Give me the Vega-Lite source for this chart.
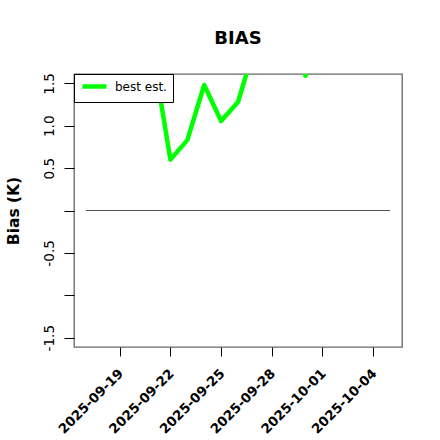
{
  "$schema": "https://vega.github.io/schema/vega-lite/v6.json",
  "width": 328,
  "height": 273,
  "autosize": {"type": "none"},
  "padding": {"left": 74, "top": 74, "right": 38, "bottom": 93},
  "background": "white",
  "config": {
    "font": "DejaVu Sans",
    "view": {"stroke": "#666", "strokeWidth": 1.3}
  },
  "title": {
    "text": "BIAS",
    "fontSize": 18,
    "fontWeight": "bold",
    "anchor": "middle",
    "offset": 11,
    "baseline": "alphabetic",
    "color": "black"
  },
  "layer": [
    {
      "data": {
        "values": [
          {"start": "2025-09-17", "end": "2025-10-05", "level": 0}
        ]
      },
      "mark": {"type": "rule", "color": "#555", "strokeWidth": 1.2},
      "encoding": {
        "x": {"field": "start", "type": "temporal"},
        "x2": {"field": "end"},
        "y": {"field": "level", "type": "quantitative"}
      }
    },
    {
      "data": {
        "values": [
          {"date": "2025-09-21", "bias": 1.81, "series": "best est."},
          {"date": "2025-09-22", "bias": 0.6, "series": "best est."},
          {"date": "2025-09-23", "bias": 0.83, "series": "best est."},
          {"date": "2025-09-24", "bias": 1.48, "series": "best est."},
          {"date": "2025-09-25", "bias": 1.055, "series": "best est."},
          {"date": "2025-09-26", "bias": 1.28, "series": "best est."},
          {"date": "2025-09-27", "bias": 1.94, "series": "best est."},
          {"date": "2025-09-28", "bias": 2.1, "series": "best est."},
          {"date": "2025-09-29", "bias": 2.0, "series": "best est."},
          {"date": "2025-09-30", "bias": 1.59, "series": "best est."},
          {"date": "2025-10-01", "bias": 2.0, "series": "best est."}
        ]
      },
      "mark": {"type": "line", "clip": true, "strokeWidth": 4.5, "strokeJoin": "round", "strokeCap": "round"},
      "encoding": {
        "x": {
          "field": "date",
          "type": "temporal",
          "scale": {
            "type": "utc",
            "domain": [
              {"year": 2025, "month": 9, "date": 16, "hours": 7, "utc": true},
              {"year": 2025, "month": 10, "date": 5, "hours": 17, "utc": true}
            ]
          },
          "axis": {
            "title": null,
            "values": [
              {"year": 2025, "month": 9, "date": 19, "utc": true},
              {"year": 2025, "month": 9, "date": 22, "utc": true},
              {"year": 2025, "month": 9, "date": 25, "utc": true},
              {"year": 2025, "month": 9, "date": 28, "utc": true},
              {"year": 2025, "month": 10, "date": 1, "utc": true},
              {"year": 2025, "month": 10, "date": 4, "utc": true}
            ],
            "labelExpr": "utcFormat(datum.value, '%Y-%m-%d')",
            "labelAngle": -45,
            "labelAlign": "right",
            "labelBaseline": "middle",
            "labelFontSize": 13.3,
            "labelFontWeight": "bold",
            "labelColor": "black",
            "labelPadding": 15,
            "labelOffset": 1,
            "tickSize": 9,
            "tickColor": "black",
            "domain": false,
            "grid": false,
            "labelOverlap": false
          }
        },
        "y": {
          "field": "bias",
          "type": "quantitative",
          "scale": {"domain": [-1.61, 1.61], "nice": false, "zero": false},
          "axis": {
            "title": "Bias (K)",
            "titleFontSize": 15.5,
            "titleFontWeight": "bold",
            "titleColor": "black",
            "titleX": -61,
            "titleBaseline": "middle",
            "values": [-1.5, -1, -0.5, 0, 0.5, 1, 1.5],
            "labelExpr": "datum.value == 0 || datum.value == -1 ? '' : replace(format(datum.value, '.1f'), '−', '-')",
            "labelAngle": -90,
            "labelAlign": "center",
            "labelBaseline": "bottom",
            "labelFontSize": 13.6,
            "labelColor": "black",
            "labelPadding": 8,
            "tickSize": 10,
            "tickColor": "black",
            "domain": false,
            "grid": false,
            "labelOverlap": false
          }
        },
        "color": {
          "field": "series",
          "type": "nominal",
          "scale": {"range": ["#00ff00"]},
          "legend": {
            "title": null,
            "orient": "top-left",
            "offset": 0,
            "padding": 6,
            "fillColor": "white",
            "strokeColor": "black",
            "symbolType": "M-3,0H3",
            "symbolSize": 64,
            "symbolOffset": 8,
            "symbolStrokeWidth": 4.5,
            "labelFontSize": 12,
            "labelColor": "black",
            "labelOffset": 14
          }
        }
      }
    }
  ]
}
